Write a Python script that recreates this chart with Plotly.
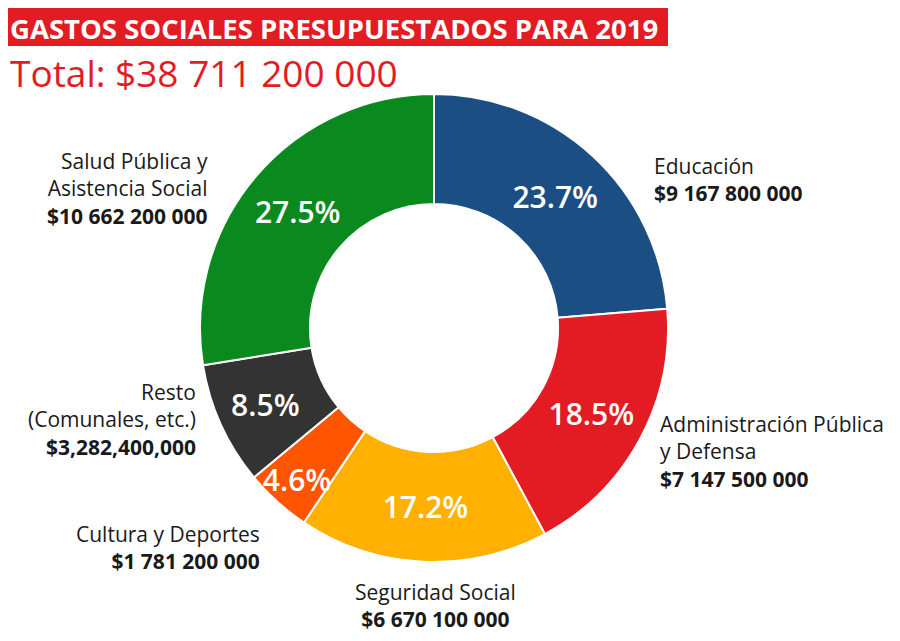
import plotly.graph_objects as go

# Datos (valores en dólares)
categorias = ["Educación", "Administración Pública<br>y Defensa", "Seguridad Social",
              "Cultura y Deportes", "Resto<br>(Comunales, etc.)",
              "Salud Pública y<br>Asistencia Social"]
montos = [9167800000, 7147500000, 6670100000, 1781200000, 3282400000, 10662200000]
montos_txt = ["$9 167 800 000", "$7 147 500 000", "$6 670 100 000",
              "$1 781 200 000", "$3,282,400,000", "$10 662 200 000"]
colores = ["#1b4f84", "#e31b23", "#ffb000", "#ff5400", "#333333", "#0a8a1e"]

total = sum(montos)
total_txt = "Total: $" + f"{total:,}".replace(",", " ")

W, H = 900, 641
OFF = 8  # margen del <body> de la página


def px(x):
    return (x - OFF) / W


def py(y):
    return 1 - (y - OFF) / H


fig = go.Figure(go.Pie(
    labels=categorias, values=montos, sort=False, direction="clockwise",
    hole=0.53, marker=dict(colors=colores, line=dict(color="white", width=2)),
    texttemplate="%{percent:.1%}", textposition="inside",
    insidetextorientation="horizontal",
    textfont=dict(family="Open Sans", size=30, color="white", weight=600),
    domain=dict(x=[px(200), px(668)], y=[py(562), py(94)]),
    showlegend=False, hoverinfo="label+value",
))

# posición (px) y alineación de cada etiqueta
pos_etiquetas = [(652, 179, "left"), (658, 451, "left"), (435, 605, "center"),
                 (262, 547, "right"), (198, 419, "right"), (210, 188, "right")]

for cat, txt, (lx, ly, al) in zip(categorias, montos_txt, pos_etiquetas):
    fig.add_annotation(
        x=px(lx), y=py(ly), xref="paper", yref="paper",
        xanchor=al, yanchor="middle", align=al, showarrow=False,
        text=f"{cat}<br><b>{txt}</b>",
        font=dict(family="Open Sans", size=21, color="#1a1a1a"),
    )

fig.add_shape(type="rect", xref="paper", yref="paper",
              x0=px(0), x1=px(668), y0=py(46), y1=py(0),
              fillcolor="#e31b23", line_width=0, layer="below")
fig.add_annotation(x=0, y=1, xref="paper", yref="paper",
                   xanchor="left", yanchor="top", showarrow=False,
                   text="<b>GASTOS SOCIALES PRESUPUESTADOS PARA 2019</b>",
                   font=dict(family="Open Sans", size=27.5, color="white"))
fig.add_annotation(x=0, y=py(72), xref="paper", yref="paper",
                   xanchor="left", yanchor="middle", showarrow=False,
                   text=total_txt,
                   font=dict(family="Open Sans", size=37, color="#e31b23"))

fig.update_layout(width=W, height=H, margin=dict(l=0, r=0, t=0, b=0),
                  paper_bgcolor="white", plot_bgcolor="white",
                  uniformtext=dict(minsize=29, mode="show"))

fig.write_html("out.html")
